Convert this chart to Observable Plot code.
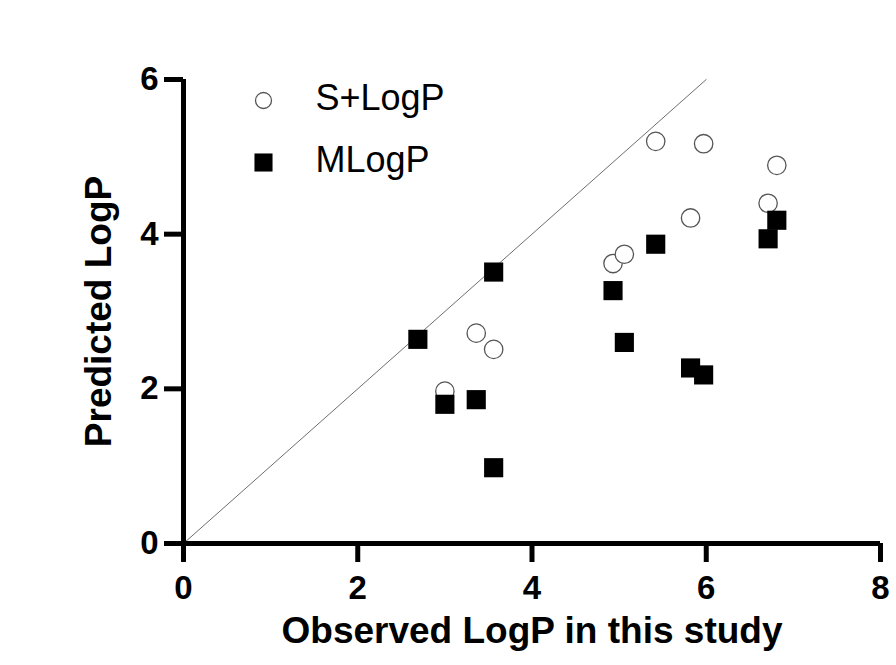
<!DOCTYPE html>
<html>
<head>
<meta charset="utf-8">
<script src="https://cdn.jsdelivr.net/npm/d3@7"></script>
<script src="https://cdn.jsdelivr.net/npm/@observablehq/plot@0.6"></script>
<style>
  html, body { margin: 0; padding: 0; background: #fff; }
  #chart { width: 896px; height: 665px; }
  svg { font-family: "Liberation Sans", Arial, sans-serif; }
</style>
</head>
<body>
<div id="chart"></div>
<script>
// Observed LogP (x) and predicted values
const observed   = [2.69, 3.00, 3.36, 3.56, 3.56, 4.93, 5.06, 5.42, 5.82, 5.97, 6.71, 6.81];
const sLogP      = [null, 1.97, 2.72, 2.51, null, 3.62, 3.74, 5.20, 4.21, 5.17, 4.40, 4.89];
const mLogP      = [2.64, 1.80, 1.86, 3.51, 0.98, 3.27, 2.60, 3.87, 2.27, 2.18, 3.94, 4.18];
const xTicks = [0, 2, 4, 6, 8];
const yTicks = [0, 2, 4, 6];
const identityLine = [0, 6];
const seriesNames = ["S+LogP", "MLogP"];
const xTitle = "Observed LogP in this study";
const yTitle = "Predicted LogP";

const sData = observed.map((x, i) => ({x, y: sLogP[i]})).filter(d => d.y != null);
const mData = observed.map((x, i) => ({x, y: mLogP[i]}));

const chart = Plot.plot({
  width: 896,
  height: 665,
  marginLeft: 183,
  marginRight: 16,
  marginTop: 79,
  marginBottom: 122,
  x: {domain: [0, 8], axis: null},
  y: {domain: [0, 6], axis: null},
  style: {fontFamily: "Liberation Sans, Arial, sans-serif", color: "#000", background: "#fff"},
  marks: [
    Plot.line(identityLine, {x: d => d, y: d => d, stroke: "#6e6e6e", strokeWidth: 1}),
    // ticks
    Plot.ruleX(xTicks, {x: d => d, y1: 0, y2: 0, insetBottom: -19, stroke: "#000", strokeWidth: 5}),
    Plot.ruleY(yTicks, {y: d => d, x1: 0, x2: 0, insetLeft: -19, stroke: "#000", strokeWidth: 5}),
    // tick labels
    Plot.text(xTicks, {x: d => d, y: 0, dy: 45, text: d => String(d), fontSize: 33, fontWeight: "bold", fill: "#000", lineAnchor: "middle"}),
    Plot.text(yTicks, {y: d => d, x: 0, dx: -25, text: d => String(d), fontSize: 33, fontWeight: "bold", fill: "#000", textAnchor: "end", lineAnchor: "middle"}),
    // axis lines
    Plot.ruleY([0], {x1: 0, x2: 8, stroke: "#000", strokeWidth: 5}),
    Plot.ruleX([0], {y1: 0, y2: 6, stroke: "#000", strokeWidth: 5}),
    Plot.dot(sData, {x: "x", y: "y", symbol: "circle", r: 9.2, fill: "#fff", stroke: "#555", strokeWidth: 1.3}),
    Plot.dot(mData, {x: "x", y: "y", symbol: "square", r: 10.8, fill: "#000", stroke: "none"}),
    // Legend
    Plot.dot([seriesNames[0]], {frameAnchor: "top-left", dx: 80, dy: 21, symbol: "circle", r: 8, fill: "#fff", stroke: "#555", strokeWidth: 1.3}),
    Plot.dot([seriesNames[1]], {frameAnchor: "top-left", dx: 80, dy: 83, symbol: "square", r: 10.2, fill: "#000", stroke: "none"}),
    Plot.text([seriesNames[0]], {text: d => d, frameAnchor: "top-left", dx: 132, dy: 19, textAnchor: "start", lineAnchor: "middle", fontSize: 36, fill: "#000"}),
    Plot.text([seriesNames[1]], {text: d => d, frameAnchor: "top-left", dx: 132, dy: 81, textAnchor: "start", lineAnchor: "middle", fontSize: 36, fill: "#000"}),
    // Axis titles
    Plot.text([xTitle], {frameAnchor: "bottom", dy: 99, fontSize: 37, fontWeight: "bold", fill: "#000", lineAnchor: "bottom"}),
    Plot.text([yTitle], {frameAnchor: "left", dx: -73, rotate: -90, textAnchor: "middle", fontSize: 37, fontWeight: "bold", fill: "#000", lineAnchor: "bottom"})
  ]
});
document.getElementById("chart").appendChild(chart);
</script>
</body>
</html>
